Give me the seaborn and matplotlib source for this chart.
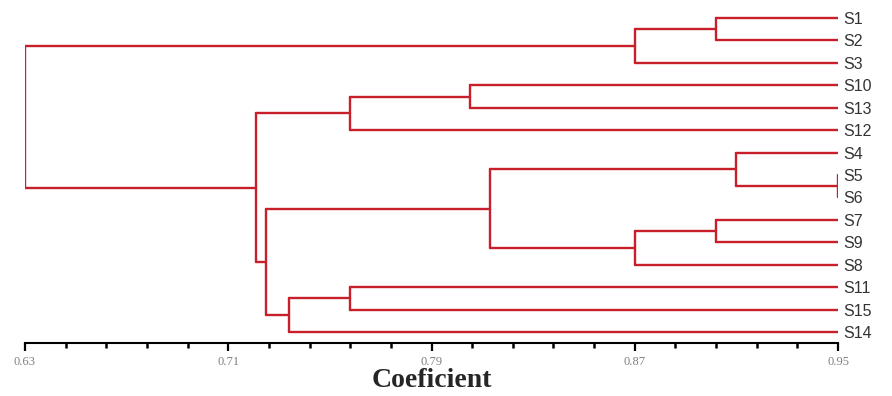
import numpy as np
import pandas as pd
import seaborn as sns
from matplotlib import pyplot as plt
from matplotlib.ticker import FixedLocator

# leaf order top to bottom
labels = ["S1", "S2", "S3", "S10", "S13", "S12", "S4", "S5", "S6",
          "S7", "S9", "S8", "S11", "S15", "S14"]

# merges C1..C14
merge_left = ["S1", "C1", "S10", "C3", "S5", "S4", "S7", "C7", "C6",
              "S11", "C10", "C9", "C4", "C2"]
merge_right = ["S2", "S3", "S13", "S12", "S6", "C5", "S9", "S8", "C8",
               "S15", "S14", "C11", "C12", "C13"]
merge_height = [0.902, 0.870, 0.805, 0.758, 0.950, 0.910, 0.902, 0.870, 0.813,
                0.758, 0.734, 0.725, 0.721, 0.630]

major_ticks = [0.63, 0.71, 0.79, 0.87, 0.95]

leaf_level = 0.95
red = "#c8202a"

sns.set_style("white")
plt.rcParams['font.family'] = ['Liberation Sans', 'DejaVu Sans']

# build segments
pos = {lab: (leaf_level, i) for i, lab in enumerate(labels)}
rows = []
seg = 0
for k, (a, b, h) in enumerate(zip(merge_left, merge_right, merge_height)):
    xa, ya = pos[a]
    xb, yb = pos[b]
    for (x0, y0, x1, y1) in [(xa, ya, h, ya), (h, ya, h, yb), (xb, yb, h, yb)]:
        rows.append({"x": x0, "y": y0, "seg": seg})
        rows.append({"x": x1, "y": y1, "seg": seg})
        seg += 1
    pos["C%d" % (k + 1)] = (h, (ya + yb) / 2)
segs = pd.DataFrame(rows)

fig = plt.figure(figsize=(8.92, 3.96), dpi=100)
ax = fig.add_axes([0.028, 0.1338, 0.9115, 0.849])

sns.lineplot(data=segs, x="x", y="y", units="seg", estimator=None, sort=False,
             color=red, linewidth=1.7, ax=ax, legend=False)

ax.set_xlim(0.63, 0.95)
ax.set_ylim(len(labels) - 1 + 0.49, -0.5)

for s in ["top", "right", "left"]:
    ax.spines[s].set_visible(False)
ax.spines["bottom"].set_color("black")
ax.spines["bottom"].set_linewidth(1.5)

ax.set_xticks(major_ticks)
ax.set_xticklabels(["%.2f" % t for t in major_ticks],
                   fontfamily="Liberation Serif", fontsize=9, color="#808080")
ax.xaxis.set_minor_locator(FixedLocator(np.arange(0.63, 0.951, 0.016)))
ax.tick_params(axis="x", which="major", direction="out", length=6, width=1.6,
               color="black", pad=3, bottom=True)
ax.tick_params(axis="x", which="minor", direction="out", length=3.5, width=1.8,
               color="black", bottom=True)

ax.yaxis.tick_right()
ax.set_yticks(range(len(labels)))
ax.set_yticklabels(labels, fontsize=11.5, color="#333333")
ax.tick_params(axis="y", length=0, pad=4, right=False, left=False)

ax.set_xlabel("Coeficient", fontfamily="Liberation Serif", fontweight="bold",
              fontsize=20, labelpad=0)
ax.set_ylabel("")

fig.savefig("out.png", dpi=100)
